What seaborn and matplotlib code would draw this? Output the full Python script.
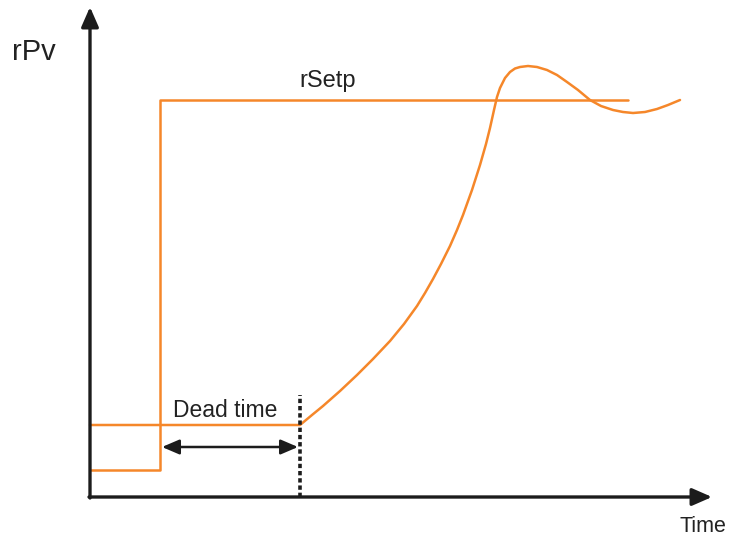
import numpy as np
import pandas as pd
import seaborn as sns
import matplotlib.pyplot as plt

# time / value (origin at the axes corner)
sp_time = [0, 70, 70, 538]
sp_value = [27, 27, 397, 397]

pv_time = [0, 210, 222, 233, 250, 267, 283, 300, 314, 327,
           335, 343, 351, 360, 367, 373, 382, 390, 396, 400,
           404, 407, 410, 415, 420, 425, 430, 438, 447, 457,
           467, 477, 488, 500, 511, 523, 533, 543, 555, 567,
           578, 590]
pv_value = [72, 72, 82, 91, 106, 122, 138, 156, 173, 191,
            204, 218, 233, 251, 267, 282, 307, 332, 353, 369,
            387, 400, 409, 419, 425, 428.5, 430, 431, 430, 427,
            422, 415, 407, 397, 391, 387, 385, 384, 385, 388,
            392, 397]

dead_start = 72
dead_end = 210

orange = "#f5872a"
ink = "#1c1c1c"

sns.set_theme(style="white")
plt.rcParams['font.family'] = ['Liberation Sans', 'DejaVu Sans']

fig = plt.figure(figsize=(7.34, 5.36), dpi=100)
ax = fig.add_axes([0, 0, 1, 1])
ax.set_xlim(-90, 644)
ax.set_ylim(-39, 497)
ax.axis("off")

sp = pd.DataFrame({"t": sp_time, "v": sp_value})
pv = pd.DataFrame({"t": pv_time, "v": pv_value})
sns.lineplot(data=sp, x="t", y="v", sort=False, estimator=None,
             color=orange, lw=1.8, ax=ax)
sns.lineplot(data=pv, x="t", y="v", sort=False, estimator=None,
             color=orange, lw=1.8, ax=ax)

# axes arrows
ax.annotate("", xy=(622, 0), xytext=(-1, 0),
            arrowprops=dict(arrowstyle="-|>,head_length=0.8,head_width=0.35",
                            mutation_scale=15, lw=2.4, color=ink, shrinkA=0, shrinkB=0))
ax.annotate("", xy=(0, 490), xytext=(0, -1),
            arrowprops=dict(arrowstyle="-|>,head_length=0.8,head_width=0.35",
                            mutation_scale=15, lw=2.4, color=ink, shrinkA=0, shrinkB=0))

# dead time marker
ax.plot([dead_end, dead_end], [0, 102], color=ink, lw=2.6, ls=(0, (1.2, 0.8)))
ax.annotate("", xy=(dead_start, 50), xytext=(dead_end - 2, 50),
            arrowprops=dict(arrowstyle="<|-|>,head_length=0.7,head_width=0.3",
                            mutation_scale=15, lw=1.8, color=ink, shrinkA=0, shrinkB=0))

ax.text(83, 80, "Dead time", fontsize=16.5, color="#222222", ha="left", va="baseline")
ax.text(209, 410, "rSetp", fontsize=17, color="#222222", ha="left", va="baseline")
ax.text(-78, 437, "rPv", fontsize=21, color="#222222", ha="left", va="baseline")
ax.text(590, -35, "Time", fontsize=15.5, color="#222222", ha="left", va="baseline")

fig.savefig("out.png", dpi=100)
